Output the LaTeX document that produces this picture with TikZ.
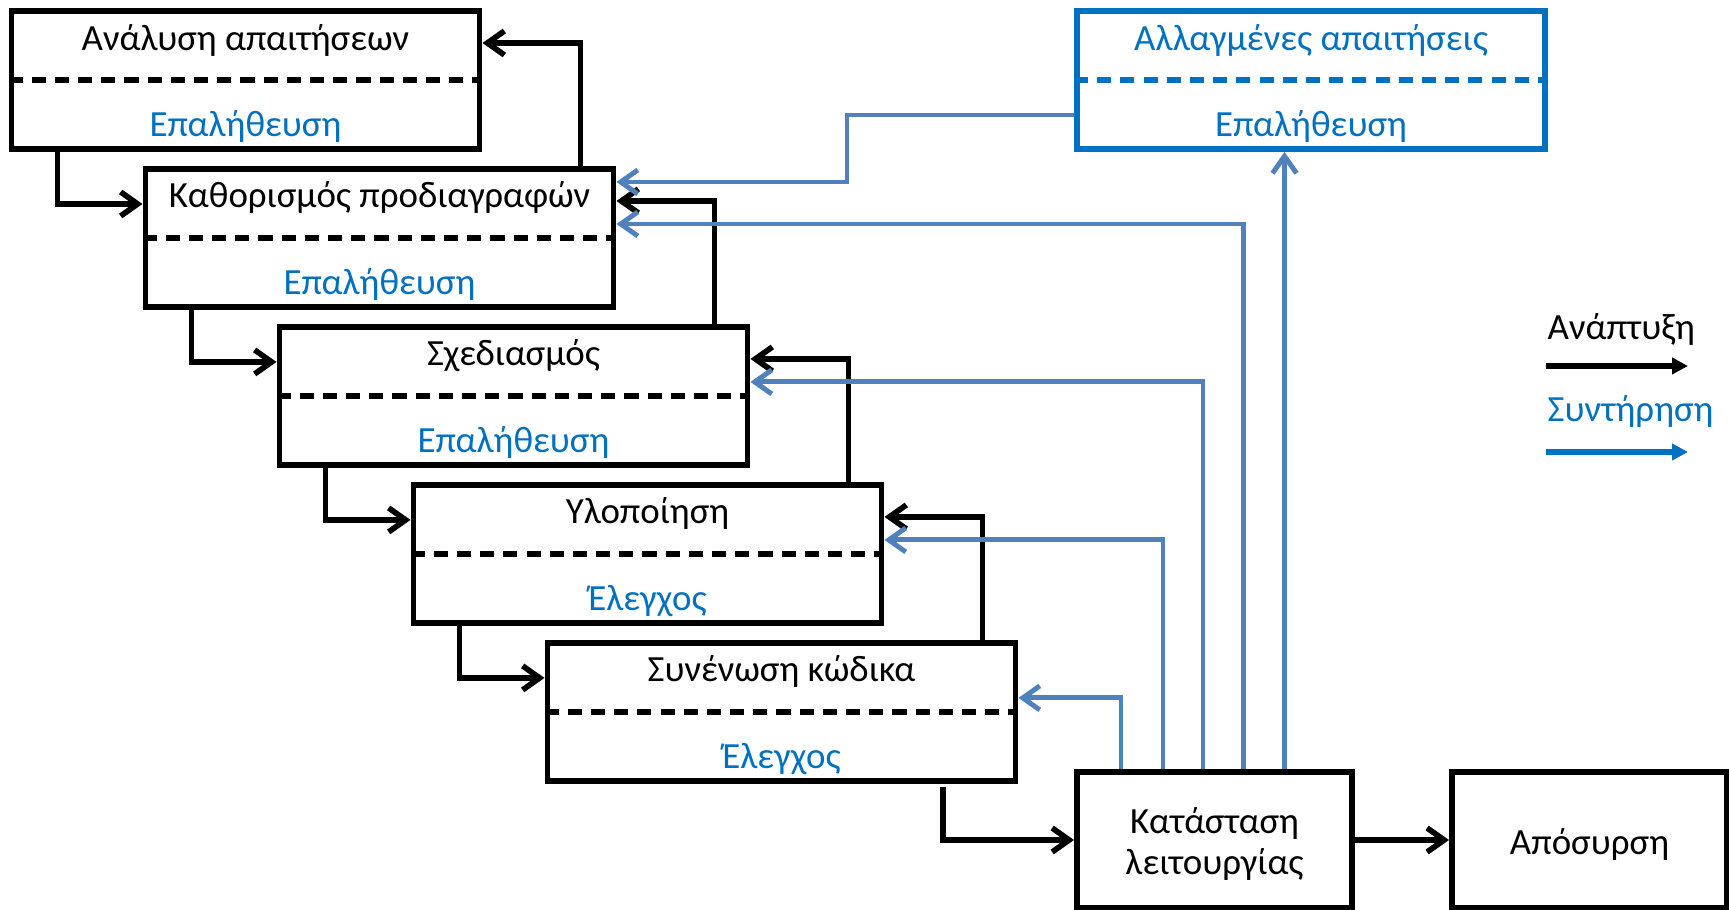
\documentclass[tikz,border=0pt]{standalone}
\usepackage{fontspec}
\setmainfont{Carlito}
\usetikzlibrary{arrows.meta, positioning}
\definecolor{textblue}{RGB}{0,112,192}
\definecolor{linkblue}{RGB}{79,129,189}
\tikzstyle{phase} = [rectangle, draw=black, line width=1.7pt, minimum width=4.68cm, minimum height=1.38cm, inner sep=0pt]
\tikzstyle{opsbox} = [rectangle, draw=black, line width=1.7pt, minimum width=2.75cm, minimum height=1.36cm, inner sep=0pt]
\tikzstyle{opstext} = [align=center, inner sep=0pt, font=\fontsize{10.5}{11.6}\selectfont]
\tikzstyle{phasetitle} = [anchor=base, inner sep=0pt, font=\fontsize{10.5}{13}\selectfont]
\tikzstyle{check} = [phasetitle, text=textblue]
\tikzstyle{divider} = [line width=1.8pt, dash pattern=on 4pt off 2.6pt]
\tikzstyle{flow} = [line width=1.6pt, -{Straight Barb[length=1.7mm, width=2.4mm]}]
\tikzstyle{maint} = [flow, draw=linkblue, line width=1.4pt]
\tikzstyle{legendtxt} = [anchor=base west, inner sep=0pt, font=\fontsize{10.5}{13}\selectfont]
\tikzstyle{legarrow} = [line width=1.7pt, -{Triangle[length=1.6mm, width=1.6mm]}]

\begin{document}
\begin{tikzpicture}
\useasboundingbox (0,0) rectangle (17.29,-9.10);

% Development phases, stepping down to the right
\node (req) [phase] at (2.455,-0.80) {};
\node (spec) [phase, below right=0.14 and 1.34 of req.south west] {};
\node (design) [phase, below right=0.14 and 1.34 of spec.south west] {};
\node (impl) [phase, below right=0.14 and 1.34 of design.south west] {};
\node (integ) [phase, below right=0.14 and 1.34 of impl.south west] {};

\node (reqT) [phasetitle] at ([yshift=-0.42cm]req.north) {Ανάλυση απαιτήσεων};
\node (reqC) [check] at ([yshift=0.15cm]req.south) {Επαλήθευση};
\draw [divider] (req.west) -- (req.east);
\node (specT) [phasetitle] at ([yshift=-0.42cm]spec.north) {Καθορισμός προδιαγραφών};
\node (specC) [check] at ([yshift=0.15cm]spec.south) {Επαλήθευση};
\draw [divider] (spec.west) -- (spec.east);
\node (designT) [phasetitle] at ([yshift=-0.42cm]design.north) {Σχεδιασμός};
\node (designC) [check] at ([yshift=0.15cm]design.south) {Επαλήθευση};
\draw [divider] (design.west) -- (design.east);
\node (implT) [phasetitle] at ([yshift=-0.42cm]impl.north) {Υλοποίηση};
\node (implC) [check] at ([yshift=0.15cm]impl.south) {Έλεγχος};
\draw [divider] (impl.west) -- (impl.east);
\node (integT) [phasetitle] at ([yshift=-0.42cm]integ.north) {Συνένωση κώδικα};
\node (integC) [check] at ([yshift=0.15cm]integ.south) {Έλεγχος};
\draw [divider] (integ.west) -- (integ.east);

% Changed requirements
\node (chg) [phase, draw=textblue] at (13.11,-0.80) {};
\node (chgT) [check] at ([yshift=-0.42cm]chg.north) {Αλλαγμένες απαιτήσεις};
\node (chgC) [check] at ([yshift=0.15cm]chg.south) {Επαλήθευση};
\draw [divider, draw=textblue] (chg.west) -- (chg.east);
\coordinate (chgin) at ([xshift=-0.265cm]chg.south);

% Operation and retirement
\node (ops) [opsbox] at (12.145,-8.40) {};
\node (retire) [opsbox, right=0.94 of ops] {};
\node (opsT) [opstext] at ([yshift=-0.04cm]ops.center) {Κατάσταση\\λειτουργίας};
\node (retireT) [opstext] at ([yshift=-0.04cm]retire.center) {Απόσυρση};

% Legend
\node (devlbl) [legendtxt] at (15.47,-3.40) {Ανάπτυξη};
\node (mntlbl) [legendtxt, text=textblue] at (15.47,-4.22) {Συντήρηση};
\coordinate (devA) at (15.46,-3.66);
\coordinate (devB) at (16.88,-3.66);
\coordinate (mntA) at (15.46,-4.52);
\coordinate (mntB) at (16.88,-4.52);
\draw [legarrow] (devA) -- (devB);
\draw [legarrow, draw=textblue, fill=textblue] (mntA) -- (mntB);

% Development arrows (forward)
\draw [flow] ([xshift=0.49cm]req.south west) |- ([yshift=-0.38cm]spec.north west);
\draw [flow] ([xshift=0.49cm]spec.south west) |- ([yshift=-0.38cm]design.north west);
\draw [flow] ([xshift=0.49cm]design.south west) |- ([yshift=-0.38cm]impl.north west);
\draw [flow] ([xshift=0.49cm]impl.south west) |- ([yshift=-0.38cm]integ.north west);
\draw [flow] ([xshift=-0.755cm,yshift=-0.03cm]integ.south east) |- (ops.west);
\draw [flow] (ops) -- (retire);

% Development arrows (back to previous phase)
\draw [flow] ([xshift=-0.36cm]spec.north east) |- ([yshift=-0.35cm]req.north east);
\draw [flow] ([xshift=-0.36cm]design.north east) |- ([yshift=-0.35cm]spec.north east);
\draw [flow] ([xshift=-0.36cm]impl.north east) |- ([yshift=-0.35cm]design.north east);
\draw [flow] ([xshift=-0.36cm]integ.north east) |- ([yshift=-0.35cm]impl.north east);

% Maintenance arrows
\draw [maint] ([xshift=0.47cm]ops.north west) |- ([yshift=-0.58cm]integ.north east);
\draw [maint] ([xshift=0.89cm]ops.north west) |- ([yshift=-0.58cm]impl.north east);
\draw [maint] ([xshift=1.29cm]ops.north west) |- ([yshift=-0.58cm]design.north east);
\draw [maint] ([xshift=1.695cm]ops.north west) |- ([yshift=-0.58cm]spec.north east);
\draw [maint] (ops.north -| chgin) -- (chgin);
\draw [maint] ([yshift=-1.07cm]chg.north west) -- ++(-2.27,0) |- ([yshift=-0.16cm]spec.north east);

\end{tikzpicture}
\end{document}
